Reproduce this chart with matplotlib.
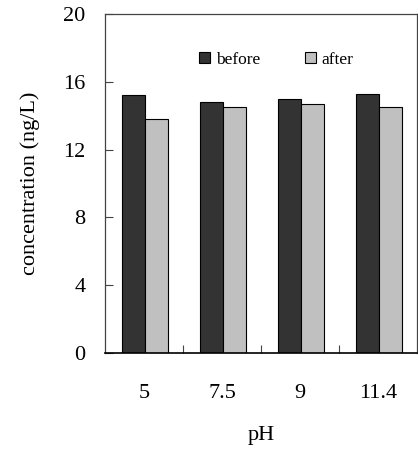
import matplotlib
matplotlib.use("Agg")
import matplotlib.pyplot as plt
import numpy as np

categories = ["5", "7.5", "9", "11.4"]
before = [15.2, 14.8, 15.0, 15.3]
after = [13.8, 14.5, 14.7, 14.5]
y_ticks = [0, 4, 8, 12, 16, 20]

plt.rcParams["font.family"] = ["Liberation Serif", "DejaVu Serif"]

fig = plt.figure(figsize=(4.18, 4.5), dpi=100)
ax = fig.add_axes([105 / 418, 1 - 353 / 450, 312 / 418, 339 / 450])

x = np.arange(len(categories)) + 0.5
w = 0.295
ax.bar(x - w / 2 + 0.01, before, width=w, color="#333333", edgecolor="black",
       linewidth=0.8, label="before")
ax.bar(x + w / 2 + 0.01, after, width=w, color="#c0c0c0", edgecolor="black",
       linewidth=0.8, label="after")

ax.set_xlim(0, len(categories))
ax.set_ylim(0, 20)
ax.set_yticks(y_ticks)
ax.tick_params(axis="y", direction="in", length=6, width=0.8, pad=14,
               labelsize=16, colors="#444444", labelcolor="black")
ax.set_xticks(np.arange(1, len(categories)))
ax.set_xticklabels([])
ax.set_xticks(x, minor=True)
ax.set_xticklabels(categories, minor=True, fontsize=16)
ax.tick_params(axis="x", which="major", direction="in", length=6, width=0.8,
               colors="#444444")
ax.tick_params(axis="x", which="minor", length=0, pad=22)

for s in ax.spines.values():
    s.set_linewidth(0.9)
    s.set_color("#444444")
ax.spines["bottom"].set_color("black")
ax.spines["bottom"].set_linewidth(1.2)

ax.set_xlabel("pH", fontsize=16, labelpad=17)
ax.set_ylabel("concentration (ng/L)", fontsize=16, labelpad=17)

ax.legend(loc="center", bbox_to_anchor=(0.55, 0.864), ncol=2, frameon=False,
          fontsize=12.5, handlelength=0.6, handleheight=0.6, handletextpad=0.35,
          columnspacing=2.6, borderpad=0)

fig.savefig("out.png", dpi=100)
